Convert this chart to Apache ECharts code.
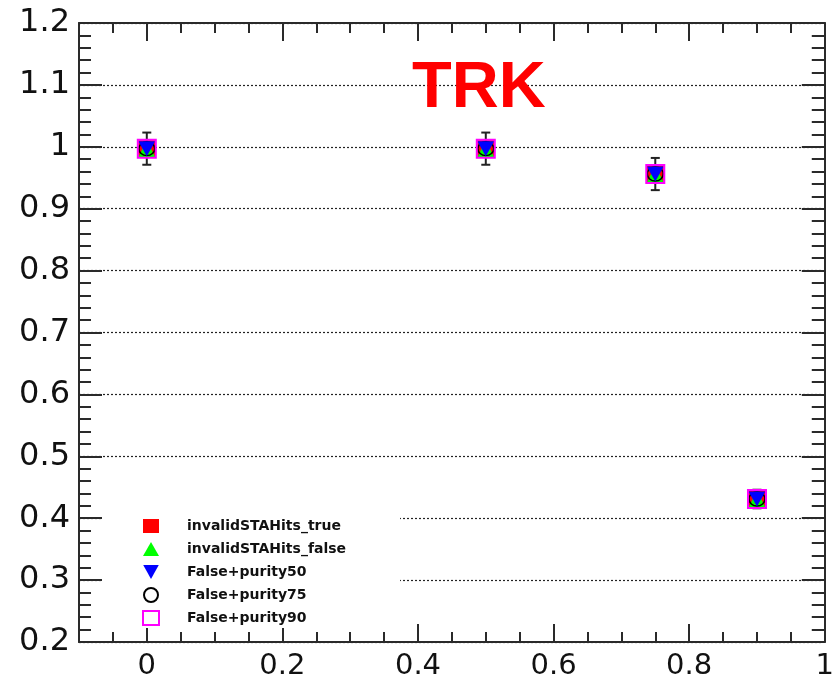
<!DOCTYPE html>
<html>
<head>
<meta charset="utf-8">
<script src="https://cdn.jsdelivr.net/npm/echarts@6/dist/echarts.min.js"></script>
<style>
html,body{margin:0;padding:0;background:#fff;}
#chart{width:837px;height:681px;}
</style>
</head>
<body>
<div id="chart"></div>
<script>
// ---- data ----
const xValues = [0, 0.5, 0.75, 0.9];
const invalidSTAHitsTrue = [0.997, 0.997, 0.956, 0.431];
const invalidSTAHitsFalse = [0.997, 0.997, 0.956, 0.431];
const falsePurity50 = [0.997, 0.997, 0.956, 0.431];
const falsePurity75 = [0.997, 0.997, 0.956, 0.431];
const falsePurity90 = [0.997, 0.997, 0.956, 0.431];
const errors = [0.026, 0.026, 0.026, 0.015];
const seriesNames = ['invalidSTAHits_true', 'invalidSTAHits_false', 'False+purity50', 'False+purity75', 'False+purity90'];
const xMajorTicks = [0, 0.2, 0.4, 0.6, 0.8, 1.0];
const titleText = 'TRK';

const pts = arr => xValues.map((x, i) => [x, arr[i]]);
const errData = xValues.map((x, i) => [x, falsePurity90[i], errors[i]]);

const axisColor = '#2a2a2a';
const font = 'DejaVu Sans';

const chart = echarts.init(document.getElementById('chart'), null, {renderer: 'canvas'});

const xBase = {
  type: 'value', min: -0.1, max: 1.0, gridIndex: 0,
  splitLine: {show: false}
};

const option = {
  animation: false,
  backgroundColor: '#ffffff',
  title: {
    text: titleText, left: 412, top: 57, padding: 0,
    textStyle: {fontSize: 65, fontWeight: 'bold', color: '#ff0000', fontFamily: 'Liberation Sans'}
  },
  grid: {left: 79, right: 10, top: 23, bottom: 38, containLabel: false},
  legend: {
    orient: 'vertical',
    left: 102, top: 505,
    padding: [13, 54, 2, 40],
    backgroundColor: '#ffffff',
    itemWidth: 16, itemHeight: 14, itemGap: 7,
    data: seriesNames,
    textStyle: {fontFamily: font, fontWeight: 'bold', fontSize: 14, color: '#111', lineHeight: 16, padding: [0, 0, 0, 23]}
  },
  xAxis: [
    Object.assign({}, xBase, {
      position: 'bottom', interval: 0.05,
      axisLine: {show: true, onZero: false, lineStyle: {color: axisColor, width: 2}},
      axisTick: {show: true, inside: true, length: 10, lineStyle: {color: axisColor, width: 2}},
      axisLabel: {show: true, customValues: xMajorTicks, margin: 10, fontSize: 29, fontFamily: font, color: '#111',
        formatter: v => String(Math.round(v * 10) / 10)}
    }),
    Object.assign({}, xBase, {
      position: 'bottom',
      axisLine: {show: false, onZero: false},
      axisTick: {show: true, inside: true, length: 18, customValues: xMajorTicks, lineStyle: {color: axisColor, width: 2}},
      axisLabel: {show: false}
    }),
    Object.assign({}, xBase, {
      position: 'top', interval: 0.05,
      axisLine: {show: true, onZero: false, lineStyle: {color: axisColor, width: 2}},
      axisTick: {show: true, inside: true, length: 10, lineStyle: {color: axisColor, width: 2}},
      axisLabel: {show: false}
    }),
    Object.assign({}, xBase, {
      position: 'top',
      axisLine: {show: false, onZero: false},
      axisTick: {show: true, inside: true, length: 18, customValues: xMajorTicks, lineStyle: {color: axisColor, width: 2}},
      axisLabel: {show: false}
    })
  ],
  yAxis: [
    {
      type: 'value', min: 0.2, max: 1.2, interval: 0.1, position: 'left',
      axisLine: {show: true, onZero: false, lineStyle: {color: axisColor, width: 2}},
      axisTick: {show: true, inside: true, length: 23, lineStyle: {color: axisColor, width: 2}},
      minorTick: {show: true, splitNumber: 5, length: 12, lineStyle: {color: axisColor, width: 2}},
      splitLine: {show: true, lineStyle: {color: '#222', width: 1.2, type: [2, 2]}},
      axisLabel: {fontSize: 32, fontFamily: font, color: '#111', margin: 9,
        formatter: v => String(Math.round(v * 10) / 10)}
    },
    {
      type: 'value', min: 0.2, max: 1.2, interval: 0.1, position: 'right',
      axisLine: {show: true, onZero: false, lineStyle: {color: axisColor, width: 2}},
      axisTick: {show: true, inside: true, length: 23, lineStyle: {color: axisColor, width: 2}},
      minorTick: {show: true, splitNumber: 5, length: 13, lineStyle: {color: axisColor, width: 2}},
      splitLine: {show: false},
      axisLabel: {show: false}
    }
  ],
  series: [
    {
      type: 'custom', name: 'errors', z: 1, xAxisIndex: 0, yAxisIndex: 0,
      data: errData, silent: true,
      renderItem: function (params, api) {
        const x = api.value(0), y = api.value(1), e = api.value(2);
        const top = api.coord([x, y + e]);
        const bot = api.coord([x, y - e]);
        const hw = 4.5;
        const st = {stroke: '#222', lineWidth: 2};
        return {
          type: 'group',
          children: [
            {type: 'line', shape: {x1: top[0], y1: top[1], x2: bot[0], y2: bot[1]}, style: st},
            {type: 'line', shape: {x1: top[0] - hw, y1: top[1], x2: top[0] + hw, y2: top[1]}, style: st},
            {type: 'line', shape: {x1: bot[0] - hw, y1: bot[1], x2: bot[0] + hw, y2: bot[1]}, style: st}
          ]
        };
      }
    },
    {
      type: 'scatter', name: seriesNames[0], z: 2, data: pts(invalidSTAHitsTrue),
      symbol: 'rect', symbolSize: 17, itemStyle: {color: '#ff0000', opacity: 1}
    },
    {
      type: 'scatter', name: seriesNames[1], z: 3, data: pts(invalidSTAHitsFalse),
      symbol: 'triangle', symbolSize: 17, itemStyle: {color: '#00ff00', opacity: 1}
    },
    {
      type: 'scatter', name: seriesNames[3], z: 4, data: pts(falsePurity75),
      symbol: 'circle', symbolSize: [16, 14], symbolKeepAspect: false,
      itemStyle: {color: 'rgba(255,255,255,0)', borderColor: '#000', borderWidth: 1.5, opacity: 1}
    },
    {
      type: 'scatter', name: seriesNames[2], z: 5, data: pts(falsePurity50),
      symbol: 'path://M0,0 L10,0 L5,9 Z', symbolSize: [17, 15], symbolKeepAspect: false,
      itemStyle: {color: '#0000ff', opacity: 1}
    },
    {
      type: 'scatter', name: seriesNames[4], z: 6, data: pts(falsePurity90),
      symbol: 'rect', symbolSize: 18,
      itemStyle: {color: 'rgba(255,255,255,0)', borderColor: '#ff00ff', borderWidth: 2, opacity: 1}
    }
  ]
};
chart.setOption(option);
</script>
</body>
</html>
